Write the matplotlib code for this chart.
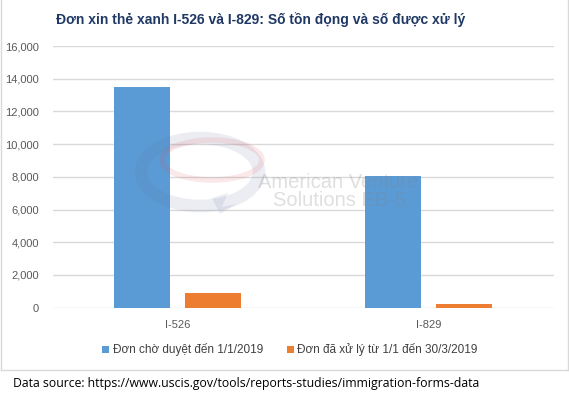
import matplotlib.pyplot as plt
import matplotlib
from matplotlib.patches import Ellipse, Polygon
from matplotlib.lines import Line2D
import numpy as np

matplotlib.rcParams['font.family'] = ['Liberation Sans', 'DejaVu Sans']

categories = ['I-526', 'I-829']
pending = [13470, 8030]
processed = [900, 230]
series_names = ['Đơn chờ duyệt đến 1/1/2019', 'Đơn đã xử lý từ 1/1 đến 30/3/2019']
yticks = [0, 2000, 4000, 6000, 8000, 10000, 12000, 14000, 16000]

title = 'Đơn xin thẻ xanh I-526 và I-829: Số tồn đọng và số được xử lý'
source = 'Data source: https://www.uscis.gov/tools/reports-studies/immigration-forms-data'

W, H = 569, 396
fig = plt.figure(figsize=(W / 100, H / 100), dpi=100)
ax = fig.add_axes([52.7 / W, 1 - 307.7 / H, 501 / W, (307.7 - 46) / H])

x = np.arange(len(categories))
w = 0.2236
off = 0.1417
ax.bar(x - off, pending, w, color='#5B9BD5', label=series_names[0], zorder=3)
ax.bar(x + off, processed, w, color='#ED7D31', label=series_names[1], zorder=3)

ax.set_xlim(-0.5, 1.5)
ax.set_ylim(0, 16000)
ax.set_yticks(yticks)
ax.set_yticklabels([f'{v:,}' for v in yticks])
ax.set_xticks(x)
ax.set_xticklabels(categories)
ax.yaxis.grid(True, color='#D9D9D9', lw=1)
ax.set_axisbelow(True)
for s in ax.spines.values():
    s.set_visible(False)
ax.tick_params(length=0, colors='#595959', labelsize=8)
ax.tick_params(axis='y', pad=10)
ax.tick_params(axis='x', pad=9)

# watermark drawn over the plot, faint
wm = fig.add_axes([0, 0, 1, 1], zorder=5)
wm.set_xlim(0, W)
wm.set_ylim(H, 0)
wm.axis('off')
wm.patch.set_alpha(0)
wm.add_patch(Ellipse((200, 172), 118, 68, facecolor='none', edgecolor='#6070A0', lw=9, alpha=0.12))
wm.add_patch(Ellipse((212, 160), 100, 40, facecolor='none', edgecolor='#E04848', lw=4, alpha=0.12))
wm.add_patch(Polygon([(212, 198), (228, 193), (222, 207), (236, 204), (220, 214)],
                     facecolor='#6070A0', edgecolor='none', alpha=0.12))
wm.text(258, 183, 'American Venture', fontsize=14.5, color='#808080', alpha=0.25,
        va='center', ha='left')
wm.text(273, 201, 'Solutions EB-5', fontsize=14.5, color='#808080', alpha=0.25,
        va='center', ha='left')

fig.text(261 / W, 1 - 20 / H, title, ha='center', va='center', fontsize=10,
         fontweight='bold', color='#1F3864')

ax.legend(loc='center', bbox_to_anchor=((290 - 52.7) / 501,
                                        (1 - 350 / H - (1 - 307.7 / H)) / ((307.7 - 46) / H)),
          ncol=2, frameon=False, fontsize=8.5, handlelength=0.6, handleheight=0.6,
          handletextpad=0.3, columnspacing=2.0, labelcolor='#404040',
          bbox_transform=ax.transAxes)

# chart border
for xs, ys in [([0.5, 0.5], [0, 370]), ([568, 568], [0, 370]), ([0.5, 568], [370, 370])]:
    fig.add_artist(Line2D([v / W for v in xs], [1 - v / H for v in ys], color='#D9D9D9', lw=1))

fig.text(13 / W, 1 - 383 / H, source, ha='left', va='center', fontsize=8.85,
         color='black', family=['Open Sans', 'DejaVu Sans'])

fig.savefig('out.png', dpi=100)
